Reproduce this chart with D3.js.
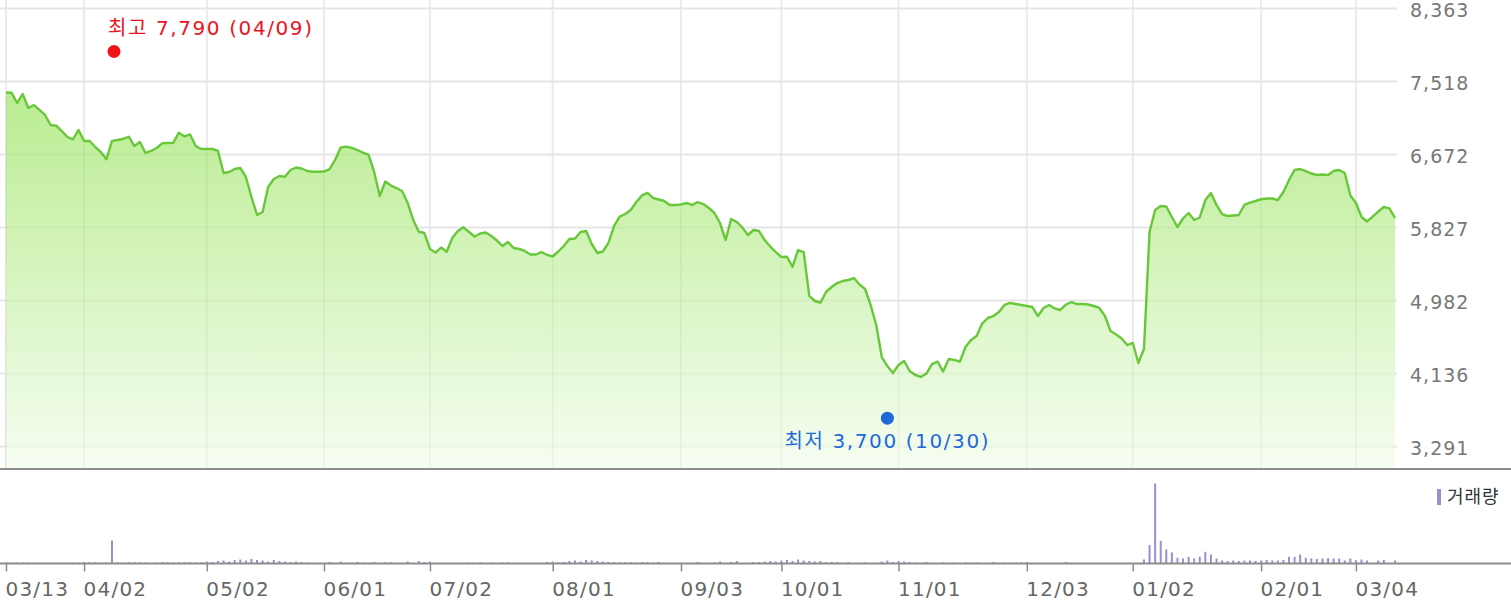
<!DOCTYPE html>
<html>
<head>
<meta charset="utf-8">
<script src="https://cdn.jsdelivr.net/npm/d3@7"></script>
<style>
  html, body { margin: 0; padding: 0; background: #fff; }
  svg { display: block; }
  text { font-family: "DejaVu Sans", "Noto Sans CJK KR", sans-serif; }
</style>
</head>
<body>
<svg id="chart" width="1511" height="613"></svg>
<script>
// ---- data ----
const prices = [
  7390,7388,7269,7373,7211,7245,7188,7130,7014,7006,
  6944,6875,6848,6956,6829,6829,6759,6701,6617,6829,
  6840,6852,6878,6771,6817,6690,6713,6748,6802,6806,
  6809,6925,6881,6904,6771,6736,6736,6736,6713,6458,
  6470,6504,6516,6412,6180,5972,6006,6296,6389,6423,
  6415,6493,6522,6510,6481,6473,6473,6475,6504,6609,
  6753,6763,6748,6724,6695,6667,6470,6192,6360,6313,
  6284,6250,6111,5914,5778,5763,5578,5537,5595,5547,
  5705,5786,5829,5775,5723,5758,5769,5729,5676,5613,
  5659,5590,5578,5555,5514,5514,5543,5509,5491,5549,
  5613,5694,5700,5775,5786,5636,5532,5549,5648,5844,
  5954,5983,6030,6122,6198,6227,6169,6151,6134,6088,
  6088,6093,6111,6088,6122,6099,6053,5995,5879,5682,
  5925,5891,5827,5740,5798,5786,5682,5607,5543,5485,
  5488,5370,5566,5543,5034,4976,4956,5080,5138,5184,
  5207,5219,5242,5167,5115,4930,4698,4327,4223,4142,
  4235,4281,4165,4119,4096,4136,4246,4273,4159,4304,
  4293,4273,4443,4524,4571,4715,4779,4802,4848,4930,
  4953,4941,4930,4918,4906,4802,4895,4930,4889,4872,
  4935,4964,4941,4941,4935,4918,4895,4802,4628,4588,
  4542,4466,4490,4258,4420,5775,6030,6076,6070,5949,
  5833,5931,5995,5914,5943,6145,6227,6088,5983,5960,
  5966,5972,6088,6116,6134,6154,6163,6163,6145,6238,
  6377,6493,6504,6479,6452,6435,6441,6435,6481,6493,
  6458,6198,6111,5949,5897,5954,6012,6064,6049,5937
];
const volumes = [
  100,80,100,90,100,80,100,90,100,80,100,90,80,100,
  150,100,120,100,100,
  2300,
  120,100,130,100,120,100,
  0,
  100,120,100,110,120,100,130,110,120,
  200,150,250,300,200,350,400,300,450,350,300,200,350,250,200,150,200,
  150,100,
  0,0,0,
  150,0,200,100,0,150,100,0,150,0,120,100,
  0,0,
  200,0,250,150,200,
  0,0,0,0,0,0,
  100,0,120,0,100,0,100,120,
  0,0,0,0,0,0,
  150,200,120,150,250,300,200,350,300,250,200,150,150,120,150,120,100,150,120,100,
  150,
  0,0,0,0,0,0,
  150,
  0,0,
  120,
  200,0,150,250,
  0,0,
  150,150,200,250,200,300,350,250,400,300,250,200,250,150,150,120,
  0,150,0,0,120,0,0,
  200,300,150,250,200,150,100,
  0,150,0,0,120,0,100,0,120,100,100,0,0,150,0,100,0,100,120,
  150,
  0,0,0,0,0,0,
  150,
  0,0,0,0,0,0,0,0,0,0,0,0,0,
  400,1830,8000,2270,1400,1100,570,500,670,500,670,1170,900,500,
  300,250,300,250,300,300,250,300,350,300,300,350,
  670,670,900,570,
  500,450,500,550,500,500,
  300,500,330,
  400,300,0,300,350,0,300
];
const dateTickIndex = [0,14,36,57,76,98,121,139,160,183,202,225,242];
const dateTickLabels = ["03/13","04/02","05/02","06/01","07/02","08/01","09/03","10/01","11/01","12/03","01/02","02/01","03/04"];
const priceTicks = [8363,7518,6672,5827,4982,4136,3291];
const highPoint = { index: 19, value: 7790, label: "최고 7,790 (04/09)" };
const lowPoint  = { index: 158, value: 3700, label: "최저 3,700 (10/30)" };
const legendLabel = "거래량";

// ---- layout ----
const W = 1511, H = 613;
const plotLeft = 6, plotRight = 1395, gridRight = 1397;
const priceTop = 8.5, priceBottom = 446.5, panelBottom = 469;
const volBase = 563.5, volTop = 483.5;

const svg = d3.select("#chart");

const x = d3.scaleLinear().domain([0, prices.length - 1]).range([plotLeft, plotRight]);
const y = d3.scaleLinear().domain([3291, 8363]).range([priceBottom, priceTop]);
const yv = d3.scaleLinear().domain([0, 8000]).range([volBase, volTop]);

// gradient
const defs = svg.append("defs");
const grad = defs.append("linearGradient")
  .attr("id", "areaGrad").attr("gradientUnits", "userSpaceOnUse")
  .attr("x1", 0).attr("x2", 0).attr("y1", 85).attr("y2", panelBottom);
grad.append("stop").attr("offset", 0).attr("stop-color", "#b3ea86");
grad.append("stop").attr("offset", 0.55).attr("stop-color", "#d6f5bf");
grad.append("stop").attr("offset", 1).attr("stop-color", "#f6fdf1");

// horizontal grid
svg.append("g").selectAll("line").data(priceTicks).join("line")
  .attr("x1", 0).attr("x2", gridRight)
  .attr("y1", d => y(d)).attr("y2", d => y(d))
  .attr("stroke", "#ebebeb").attr("stroke-width", 2);

// vertical grid
svg.append("g").selectAll("line").data(dateTickIndex).join("line")
  .attr("x1", d => x(d)).attr("x2", d => x(d))
  .attr("y1", 0).attr("y2", panelBottom)
  .attr("stroke", "#ebebeb").attr("stroke-width", 2);

// area + line
const area = d3.area().x((d, i) => x(i)).y0(panelBottom - 1).y1(d => y(d));
svg.append("path").datum(prices).attr("d", area)
  .attr("fill", "url(#areaGrad)").attr("fill-opacity", 0.92);

const line = d3.line().x((d, i) => x(i)).y(d => y(d));
svg.append("path").datum(prices).attr("d", line)
  .attr("fill", "none").attr("stroke", "#68c83a").attr("stroke-width", 2.4)
  .attr("stroke-linejoin", "round");

// faint grid visible through the area
svg.append("g").selectAll("line").data(dateTickIndex).join("line")
  .attr("x1", d => x(d)).attr("x2", d => x(d))
  .attr("y1", d => y(prices[d]) + 3).attr("y2", panelBottom)
  .attr("stroke", "#000").attr("stroke-opacity", 0.03).attr("stroke-width", 2);
svg.append("g").selectAll("line").data(priceTicks).join("line")
  .attr("x1", 0).attr("x2", gridRight)
  .attr("y1", d => y(d)).attr("y2", d => y(d))
  .attr("stroke", "#000").attr("stroke-opacity", 0.025).attr("stroke-width", 2);

// panel bottom border
svg.append("line").attr("x1", 0).attr("x2", W).attr("y1", panelBottom).attr("y2", panelBottom)
  .attr("stroke", "#8c8c8c").attr("stroke-width", 2);

// y axis labels (right)
const yAxis = d3.axisRight(y).tickValues(priceTicks).tickSize(0).tickPadding(0)
  .tickFormat(d3.format(","));
const gy = svg.append("g").attr("transform", `translate(1410,1)`).call(yAxis);
gy.select(".domain").remove();
gy.selectAll("text").attr("font-size", 19).attr("fill", "#777")
  .attr("font-family", "DejaVu Sans").attr("letter-spacing", 1)
  .attr("x", 0).attr("dy", "0.35em");

// high / low markers
const hx = x(highPoint.index) + 2, hy = y(highPoint.value) - 6.5;
svg.append("circle").attr("cx", hx).attr("cy", hy).attr("r", 6.5).attr("fill", "#f01414");
svg.append("text").attr("x", hx - 6).attr("y", hy - 23).attr("dy", "0.35em")
  .attr("font-size", 20).attr("fill", "#e8141e").attr("letter-spacing", 1.6)
  .text(highPoint.label);

const lx = x(lowPoint.index), ly = y(lowPoint.value) + 7;
svg.append("circle").attr("cx", lx).attr("cy", ly).attr("r", 6.5).attr("fill", "#1e6ad8");
svg.append("text").attr("x", lx).attr("y", ly + 23).attr("dy", "0.35em")
  .attr("text-anchor", "middle")
  .attr("font-size", 20).attr("fill", "#1e6ad8").attr("letter-spacing", 1.6)
  .text(lowPoint.label);

// volume bars
svg.append("g").selectAll("rect").data(volumes).join("rect")
  .attr("x", (d, i) => x(i) - 1).attr("width", 2)
  .attr("y", d => yv(d)).attr("height", d => volBase - yv(d))
  .attr("fill", "#9c8cd0");

// x axis
const xAxis = d3.axisBottom(x).tickValues(dateTickIndex).tickSize(8).tickPadding(6)
  .tickFormat((d, i) => dateTickLabels[i]);
const gx = svg.append("g").attr("transform", `translate(0,${volBase})`).call(xAxis);
gx.select(".domain").remove();
gx.selectAll(".tick line").attr("stroke", "#8c8c8c").attr("stroke-width", 1.5);
gx.selectAll("text").attr("font-size", 20).attr("fill", "#666")
  .attr("font-family", "DejaVu Sans").attr("letter-spacing", 1.2)
  .attr("text-anchor", "start").attr("x", -1).attr("y", 18).attr("dy", "0.71em");
svg.append("line").attr("x1", 0).attr("x2", W).attr("y1", volBase).attr("y2", volBase)
  .attr("stroke", "#8c8c8c").attr("stroke-width", 2);

// legend
svg.append("rect").attr("x", 1437).attr("y", 489).attr("width", 4).attr("height", 16).attr("fill", "#9c8cd0");
svg.append("text").attr("x", 1447).attr("y", 497).attr("dy", "0.35em")
  .attr("font-size", 18).attr("letter-spacing", 1).attr("fill", "#333").text(legendLabel);
</script>
</body>
</html>
